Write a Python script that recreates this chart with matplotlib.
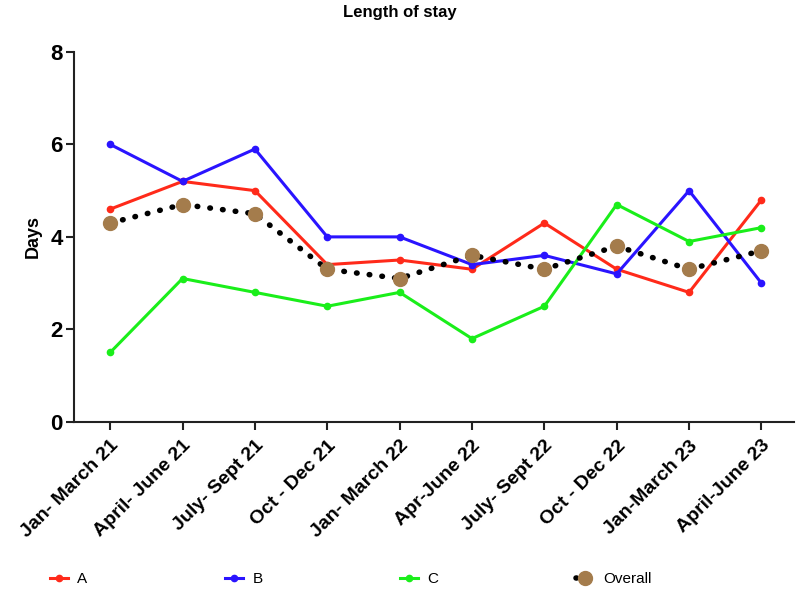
import matplotlib
matplotlib.use('Agg')
import matplotlib.pyplot as plt

plt.rcParams['font.family'] = ['Liberation Sans', 'DejaVu Sans']

quarters = ['Jan- March 21', 'April- June 21', 'July- Sept 21', 'Oct - Dec 21',
            'Jan- March 22', 'Apr-June 22', 'July- Sept 22', 'Oct - Dec 22',
            'Jan-March 23', 'April-June 23']
a_vals = [4.6, 5.2, 5.0, 3.4, 3.5, 3.3, 4.3, 3.3, 2.8, 4.8]
b_vals = [6.0, 5.2, 5.9, 4.0, 4.0, 3.4, 3.6, 3.2, 5.0, 3.0]
c_vals = [1.5, 3.1, 2.8, 2.5, 2.8, 1.8, 2.5, 4.7, 3.9, 4.2]
overall_vals = [4.3, 4.7, 4.5, 3.3, 3.1, 3.6, 3.3, 3.8, 3.3, 3.7]

fig = plt.figure(figsize=(8, 5.9), dpi=100)
ax = fig.add_axes([0.0925, 0.285, 0.9, 0.627])

x = list(range(len(quarters)))
ax.plot(x, a_vals, color='#ff2a1a', lw=2.2, marker='o', ms=4.5, label='A')
ax.plot(x, b_vals, color='#2a14ff', lw=2.2, marker='o', ms=4.5, label='B')
ax.plot(x, c_vals, color='#1aee1a', lw=2.2, marker='o', ms=4.5, label='C')
ax.plot(x, overall_vals, color='black', lw=4, ls=(0, (0.1, 2.2)), dash_capstyle='round',
        marker='o', ms=10, mfc='#a47c4c', mec='#a47c4c', label='Overall')

ax.set_xlim(-0.5, 9.45)
ax.set_ylim(0, 8)
ax.set_yticks([0, 2, 4, 6, 8])
ax.set_xticks(x)
ax.set_xticklabels(quarters, rotation=45, ha='right', rotation_mode='anchor',
                   fontsize=14, fontweight='bold')
for lab in ax.get_yticklabels():
    lab.set_fontsize(16)
    lab.set_fontweight('bold')
ax.tick_params(axis='both', width=1.5, length=6, color='#222222')
ax.tick_params(axis='x', pad=5)
ax.tick_params(axis='y', pad=2)
ax.spines['top'].set_visible(False)
ax.spines['right'].set_visible(False)
ax.spines['left'].set_linewidth(1.5)
ax.spines['bottom'].set_linewidth(1.5)
ax.spines['left'].set_color('#222222')
ax.spines['bottom'].set_color('#222222')

ax.set_ylabel('Days', fontsize=13, fontweight='bold', labelpad=6)
fig.text(0.5, 0.978, 'Length of stay', ha='center', va='center', fontsize=12, fontweight='bold')

fig.legend(loc='lower left', bbox_to_anchor=(0.045, -0.017), ncol=4, frameon=False,
           fontsize=11, handlelength=1.2, columnspacing=9.0, handletextpad=0.6)

fig.savefig('out.png', dpi=100)
